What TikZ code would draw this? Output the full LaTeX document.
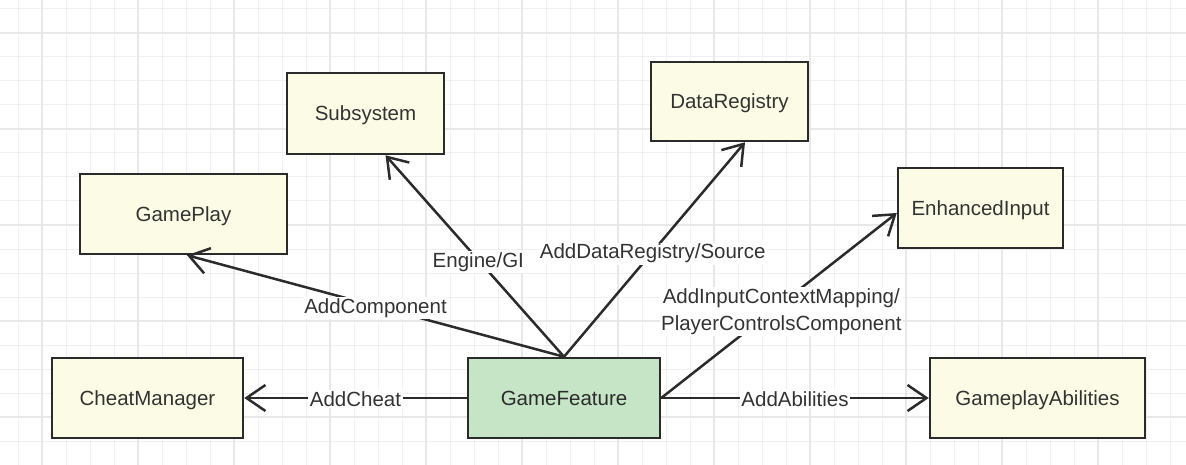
\documentclass[tikz,border=0pt]{standalone}
\usepackage{fontspec}
\setmainfont{Liberation Sans}
\usetikzlibrary{arrows.meta,calc}
\definecolor{boxfill}{HTML}{FCFCE6}
\definecolor{gffill}{HTML}{C6E5C6}
\definecolor{ink}{HTML}{2B2B2B}
\definecolor{txt}{HTML}{333333}
\definecolor{gridminor}{HTML}{F0F0F0}
\definecolor{gridmajor}{HTML}{E8E8E8}
\tikzset{
  box/.style={draw=ink, line width=2.5pt, fill=boxfill, text=txt, inner sep=0pt,
    text depth=0pt, font=\fontsize{20.5}{24}\selectfont},
  gfbox/.style={box, fill=gffill, text=ink},
  link/.style={draw=ink, line width=2.5pt, -{Straight Barb[length=19pt,width=26pt,line width=2.5pt]}},
  lbl/.style={fill=white, text=txt, inner sep=1.5pt, align=center,
    font=\fontsize{20.5}{27}\selectfont},
}
\begin{document}
\begin{tikzpicture}[x=1pt,y=-1pt]
\useasboundingbox (0,0) rectangle (1186,465);
\fill[white] (0,0) rectangle (1186,465);
% grid
\foreach \gx in {0,...,48} {
  \draw[gridminor, line width=1pt] ({18+24*\gx},0) -- ({18+24*\gx},465);
}
\foreach \gy in {0,...,19} {
  \draw[gridminor, line width=1pt] (0,{9+24*\gy}) -- (1186,{9+24*\gy});
}
\foreach \gx in {0,...,12} {
  \draw[gridmajor, line width=1.2pt] ({42+96*\gx},0) -- ({42+96*\gx},465);
}
\foreach \gy in {0,...,4} {
  \draw[gridmajor, line width=1.2pt] (0,{33+96*\gy}) -- (1186,{33+96*\gy});
}
% nodes
\node[box, minimum width=157pt, minimum height=81pt] (sub) at (365.5,113.5) {Subsystem};
\node[box, minimum width=207pt, minimum height=80pt] (gp) at (183.5,214) {GamePlay};
\node[box, minimum width=157pt, minimum height=79pt] (dr) at (729.5,101.5) {DataRegistry};
\node[box, minimum width=165pt, minimum height=80pt] (ei) at (980.5,208) {EnhancedInput};
\node[box, minimum width=191pt, minimum height=80pt] (cm) at (147.5,398) {CheatManager};
\node[gfbox, minimum width=192pt, minimum height=80pt] (gf) at (564,398) {GameFeature};
\node[box, minimum width=215pt, minimum height=80pt] (ga) at (1037.5,398) {GameplayAbilities};
% connectors
\draw[link] (gf.north) -- ([xshift=20pt]sub.south) node[lbl, pos=0.48, yshift=-2pt] {Engine/GI};
\draw[link] (gf.north) -- ([xshift=15.5pt]dr.south) node[lbl, pos=0.49, yshift=-2pt] {AddDataRegistry/Source};
\draw[link] (gf.north) -- ([xshift=3.5pt]gp.south) node[lbl, pos=0.5, yshift=-2pt] {AddComponent};
\draw[link] (gf.east) -- ([yshift=-5pt]ei.west) node[lbl, pos=0.48, xshift=7pt, yshift=-2pt] {AddInputContextMapping/\\PlayerControlsComponent};
\draw[link] (gf.west) -- (cm.east) node[lbl, pos=0.5, yshift=-1pt] {AddCheat};
\draw[link] (gf.east) -- (ga.west) node[lbl, pos=0.5, yshift=-1pt] {AddAbilities};
\end{tikzpicture}
\end{document}
